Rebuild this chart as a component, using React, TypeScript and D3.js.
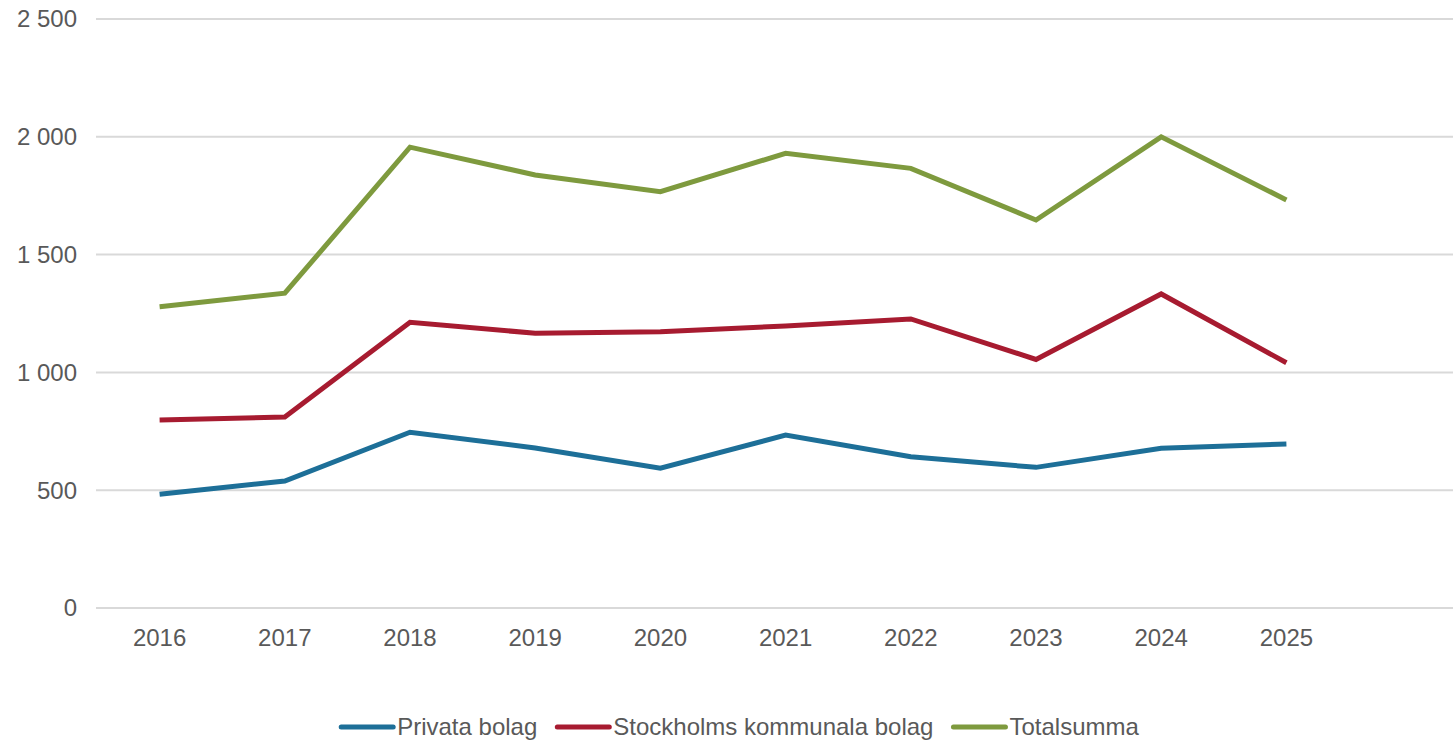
import React, { useEffect, useRef } from "react";
import * as d3 from "d3";

const years = ["2016", "2017", "2018", "2019", "2020", "2021", "2022", "2023", "2024", "2025"];
const privata = [483, 539, 746, 679, 593, 734, 642, 597, 678, 696];
const kommunala = [798, 811, 1213, 1166, 1173, 1197, 1227, 1055, 1333, 1041];
const totalsumma = [1279, 1336, 1956, 1838, 1767, 1930, 1866, 1647, 2000, 1732];
const yTicks = [0, 500, 1000, 1500, 2000, 2500];

const seriesNames = ["Privata bolag", "Stockholms kommunala bolag", "Totalsumma"];
const seriesColors = ["#1d6f98", "#a71b30", "#7e9a3e"];

const width = 1453;
const height = 741;

const fmt = (v: number) => d3.format(",")(v).replace(/,/g, " ");
const font = "24px 'Liberation Sans', Arial, sans-serif";

export default function App() {
  const ref = useRef<SVGSVGElement>(null);

  useEffect(() => {
    const svg = d3.select(ref.current);
    svg.selectAll("*").remove();

    const left = 96;
    const y = d3.scaleLinear().domain([0, 2500]).range([608, 19]);
    const x = d3.scaleBand().domain(years).range([97, 1349]);
    const cx = (d: string) => (x(d) ?? 0) + x.bandwidth() / 2;

    // gridlines
    svg
      .append("g")
      .selectAll("line")
      .data(yTicks)
      .enter()
      .append("line")
      .attr("x1", left)
      .attr("x2", width)
      .attr("y1", (d) => y(d))
      .attr("y2", (d) => y(d))
      .attr("stroke", "#d9d9d9")
      .attr("stroke-width", 2);

    // y labels
    svg
      .append("g")
      .selectAll("text")
      .data(yTicks)
      .enter()
      .append("text")
      .attr("x", 77)
      .attr("y", (d) => y(d))
      .attr("dy", "0.35em")
      .attr("text-anchor", "end")
      .attr("fill", "#595959")
      .style("font", font)
      .text((d) => fmt(d));

    // x labels
    svg
      .append("g")
      .selectAll("text")
      .data(years)
      .enter()
      .append("text")
      .attr("x", (d) => cx(d))
      .attr("y", 646)
      .attr("text-anchor", "middle")
      .attr("fill", "#595959")
      .style("font", font)
      .text((d) => d);

    const series = [privata, kommunala, totalsumma];
    const line = d3
      .line<number>()
      .x((_, i) => cx(years[i]))
      .y((d) => y(d));

    series.forEach((s, i) => {
      svg
        .append("path")
        .datum(s)
        .attr("d", line)
        .attr("fill", "none")
        .attr("stroke", seriesColors[i])
        .attr("stroke-width", 5)
        .attr("stroke-linejoin", "miter");
    });

    // legend
    const lg = svg.append("g");
    const items = seriesNames.map((name, i) => {
      const g = lg.append("g");
      g.append("line")
        .attr("x1", 0)
        .attr("x2", 52)
        .attr("y1", 0)
        .attr("y2", 0)
        .attr("stroke", seriesColors[i])
        .attr("stroke-width", 5)
        .attr("stroke-linecap", "round");
      const t = g
        .append("text")
        .attr("x", 56)
        .attr("dy", "0.35em")
        .attr("fill", "#595959")
        .style("font", font)
        .text(name);
      const w = 56 + ((t.node() as SVGTextElement).getComputedTextLength() || 0);
      return { g, w };
    });
    const gap = 20;
    const total = d3.sum(items, (d) => d.w) + gap * (items.length - 1);
    let pos = 740 - total / 2;
    items.forEach((it) => {
      it.g.attr("transform", `translate(${pos},727)`);
      pos += it.w + gap;
    });
  }, []);

  return (
    <svg
      ref={ref}
      width={width}
      height={height}
      style={{ position: "absolute", left: 0, top: 0, background: "#fff" }}
    />
  );
}
